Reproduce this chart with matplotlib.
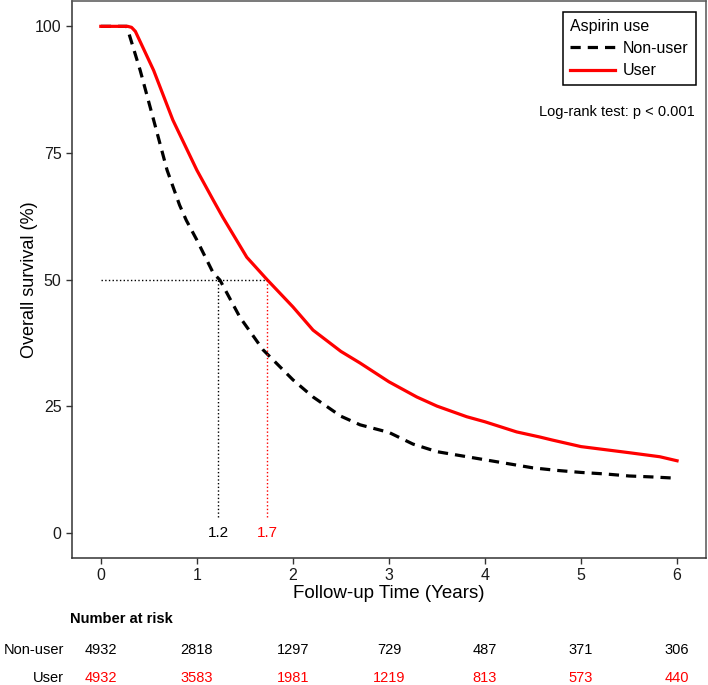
import numpy as np
import matplotlib
matplotlib.use("Agg")
import matplotlib.pyplot as plt
import matplotlib.transforms as mtransforms

plt.rcParams['font.family'] = ['Liberation Sans', 'DejaVu Sans']

# Kaplan-Meier curves (years, % surviving)
nonuser_t = [0, 0.27, 0.41, 0.55, 0.69, 0.82, 0.89, 1.0, 1.17, 1.24, 1.45, 1.69,
             2.0, 2.21, 2.5, 2.7, 3.0, 3.25, 3.5, 3.75, 4.0, 4.25, 4.5, 4.75,
             5.0, 5.25, 5.5, 5.75, 5.95]
nonuser_s = [100, 100, 91.3, 81.5, 71.6, 64.7, 61.7, 57.8, 51.3, 49.9, 42.5, 36.1,
             30.2, 26.8, 23.0, 21.3, 19.8, 17.5, 16.0, 15.2, 14.4, 13.6, 12.8, 12.3,
             11.9, 11.6, 11.2, 11.0, 10.8]
user_t = [0, 0.28, 0.32, 0.36, 0.55, 0.75, 1.0, 1.17, 1.27, 1.52, 1.73, 2.0, 2.21, 2.5,
          2.7, 3.0, 3.29, 3.5, 3.81, 4.0, 4.33, 4.57, 4.7, 5.0, 5.5, 5.82, 6.0]
user_s = [100, 100, 99.8, 99.0, 91.3, 81.5, 71.6, 65.7, 62.3, 54.4, 50.0, 44.6, 40.0, 35.8,
          33.5, 29.8, 26.8, 25.0, 22.9, 21.9, 19.9, 18.9, 18.3, 17.0, 15.8, 15.0, 14.2]

median_nonuser = 1.22
median_user = 1.73

risk_times = [0, 1, 2, 3, 4, 5, 6]
risk_nonuser = [4932, 2818, 1297, 729, 487, 371, 306]
risk_user = [4932, 3583, 1981, 1219, 813, 573, 440]

fig = plt.figure(figsize=(7.08, 6.85), dpi=100)
ax = fig.add_axes([0.1017, 0.1854, 0.8953, 0.8131])

red = '#ff0000'
ax.plot(nonuser_t, nonuser_s, color='black', lw=2.3, ls=(0, (3.2, 2.2)), label='Non-user')
ax.plot(user_t, user_s, color=red, lw=2.3, label='User')

# median markers
ax.plot([0, median_user], [50, 50], color='black', lw=1, ls=':')
ax.plot([median_nonuser, median_nonuser], [3, 50], color='black', lw=1, ls=':')
ax.plot([median_user, median_user], [3, 50], color=red, lw=1, ls=':')
ax.text(median_nonuser, 0, '1.2', ha='center', va='center', fontsize=11, color='black')
ax.text(median_user, 0, '1.7', ha='center', va='center', fontsize=11, color=red)

ax.set_xlim(-0.3, 6.3)
ax.set_ylim(-5, 105)
ax.set_xticks(range(7))
ax.set_yticks([0, 25, 50, 75, 100])
ax.tick_params(labelsize=11.5, colors='#333333', length=4, width=1, direction='out')
ax.tick_params(axis='both', labelcolor='#1a1a1a')
for s in ['left', 'bottom']:
    ax.spines[s].set_color('#333333')
    ax.spines[s].set_linewidth(1.1)
for s in ['top', 'right']:
    ax.spines[s].set_color('#555555')
    ax.spines[s].set_linewidth(1.1)

ax.set_xlabel('Follow-up Time (Years)', fontsize=13.5, labelpad=1)
ax.set_ylabel('Overall survival (%)', fontsize=13, labelpad=-2)

leg = ax.legend(title='Aspirin use', loc='upper right', bbox_to_anchor=(0.984, 0.981),
                borderaxespad=0, fontsize=11.5, title_fontsize=11.5, fancybox=False,
                framealpha=1, handlelength=2.8, handletextpad=0.5, borderpad=0.45,
                labelspacing=0.45)
leg.get_frame().set_edgecolor('black')
leg.get_frame().set_linewidth(1.1)
leg._legend_box.align = 'left'

ax.text(0.982, 0.80, 'Log-rank test: p < 0.001', transform=ax.transAxes,
        ha='right', va='center', fontsize=10.5)

# number at risk table
fig.text(0.099, 1 - 619 / 685, 'Number at risk', fontsize=10.5, fontweight='bold',
         ha='left', va='center')
trans = mtransforms.blended_transform_factory(ax.transData, fig.transFigure)
row_y = [1 - 650 / 685, 1 - 678 / 685]
for lab, vals, c, y in [('Non-user', risk_nonuser, 'black', row_y[0]),
                        ('User', risk_user, red, row_y[1])]:
    fig.text(0.090, y, lab, fontsize=10.5, ha='right', va='center', color='black')
    for t, v in zip(risk_times, vals):
        ax.text(t, y, str(v), transform=trans, fontsize=10.5, ha='center',
                va='center', color=c, clip_on=False)

fig.savefig('out.png', dpi=100)
